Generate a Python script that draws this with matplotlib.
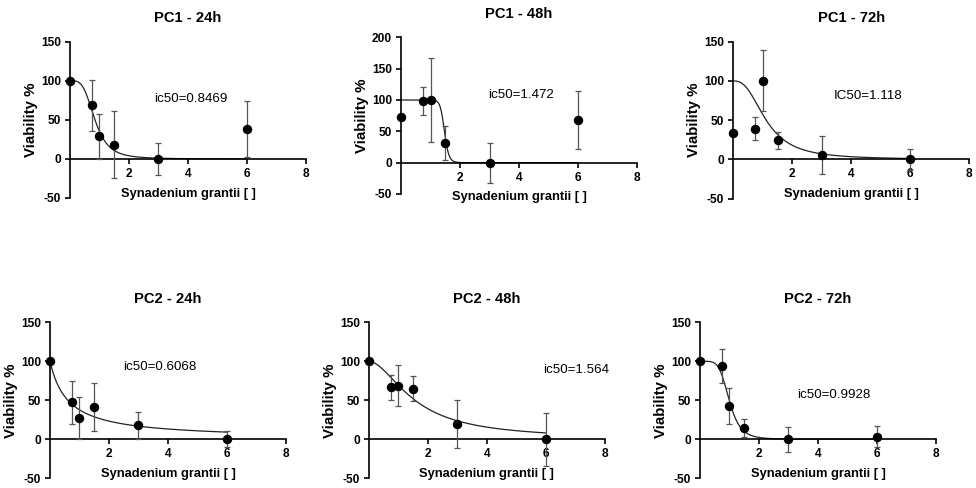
import numpy as np
import matplotlib
matplotlib.use('Agg')
import matplotlib.pyplot as plt

plt.rcParams['font.family'] = ['Liberation Sans', 'DejaVu Sans']
plt.rcParams['axes.unicode_minus'] = False

# concentracoes testadas
conc = [0, 0.75, 1, 1.5, 3, 6]

# PC1
pc1_24h_mean = [100, 68.5, 29, 18.3, 0, 38]
pc1_24h_sd = [0, 33, 29, 42.6, 20, 36]
pc1_48h_mean = [73, 98, 100, 32, 0, 68]
pc1_48h_sd = [0, 22.5, 67, 27, 32, 46]
pc1_72h_mean = [34.3, 39.4, 100.3, 24.4, 6, 0]
pc1_72h_sd = [0, 14.6, 39, 11, 24, 13.7]

# PC2
pc2_24h_mean = [100, 47.4, 27, 41.5, 18, 0]
pc2_24h_sd = [0, 27.8, 27, 30.7, 17, 10]
pc2_48h_mean = [100, 66.7, 68.8, 65, 20, 0]
pc2_48h_sd = [0, 16.2, 26.5, 16.5, 31, 34]
pc2_72h_mean = [100, 93.6, 42.3, 14.5, 0, 3.4]
pc2_72h_sd = [0, 22, 23, 11.5, 16, 13.6]

titles = ['PC1 - 24h', 'PC1 - 48h', 'PC1 - 72h', 'PC2 - 24h', 'PC2 - 48h', 'PC2 - 72h']
ic50_labels = ['ic50=0.8469', 'ic50=1.472', 'IC50=1.118', 'ic50=0.6068', 'ic50=1.564', 'ic50=0.9928']
ic50_vals = [0.8469, 1.472, 1.118, 0.6068, 1.564, 0.9928]
hill = [3.7, 20, 2.6, 1.0, 1.8, 5.3]
y_top = [150, 200, 150, 150, 150, 150]

means = [pc1_24h_mean, pc1_48h_mean, pc1_72h_mean, pc2_24h_mean, pc2_48h_mean, pc2_72h_mean]
sds = [pc1_24h_sd, pc1_48h_sd, pc1_72h_sd, pc2_24h_sd, pc2_48h_sd, pc2_72h_sd]

# posicao dos eixos (fracao da figura) e do texto ic50 (coord. dos dados)
axes_pos = [
    [0.0717, 0.5943, 0.2418, 0.3203],
    [0.4109, 0.6025, 0.2418, 0.3210],
    [0.7513, 0.5928, 0.2418, 0.3217],
    [0.0512, 0.0199, 0.2418, 0.3197],
    [0.3780, 0.0199, 0.2418, 0.3197],
    [0.7172, 0.0199, 0.2418, 0.3197],
]
text_pos = [(2.85, 77), (2.94, 108), (3.42, 81), (2.48, 93), (5.9, 89), (3.29, 57)]

fig = plt.figure(figsize=(9.76, 4.88), dpi=100)

for i in range(6):
    ax = fig.add_axes(axes_pos[i])

    # curva dose-resposta ajustada
    xc = np.linspace(0, 6, 400)
    yc = 100 / (1 + (xc / ic50_vals[i]) ** hill[i])
    ax.plot(xc, yc, color='#222222', lw=0.9, zorder=2, clip_on=False)

    ax.errorbar(conc, means[i], yerr=sds[i], fmt='none', ecolor='#555555',
                elinewidth=0.9, capsize=2.2, capthick=0.9, zorder=3, clip_on=False)
    ax.plot(conc, means[i], 'o', color='black', ms=5.8, zorder=4, clip_on=False)

    ax.set_xlim(0, 8)
    ax.set_ylim(-50, y_top[i])
    ax.set_xticks([2, 4, 6, 8])
    ax.set_yticks(np.arange(-50, y_top[i] + 1, 50))

    ax.spines['top'].set_visible(False)
    ax.spines['right'].set_visible(False)
    ax.spines['bottom'].set_position(('data', 0))
    for s in ['left', 'bottom']:
        ax.spines[s].set_linewidth(1.2)

    ax.tick_params(direction='out', length=3.5, width=1.2, labelsize=8.6, pad=3)
    for lab in ax.get_xticklabels() + ax.get_yticklabels():
        lab.set_fontweight('bold')

    ax.set_xlabel('Synadenium grantii [ ]', fontsize=9.3, fontweight='bold', labelpad=5.5)
    ax.set_ylabel('Viability %', fontsize=10.8, fontweight='bold', labelpad=2)
    ax.set_title(titles[i], fontsize=10.6, fontweight='bold', pad=14)

    tx, ty = text_pos[i]
    ax.text(tx, ty, ic50_labels[i], fontsize=9.6, ha='left', va='center')

fig.savefig('out.png', dpi=100)
